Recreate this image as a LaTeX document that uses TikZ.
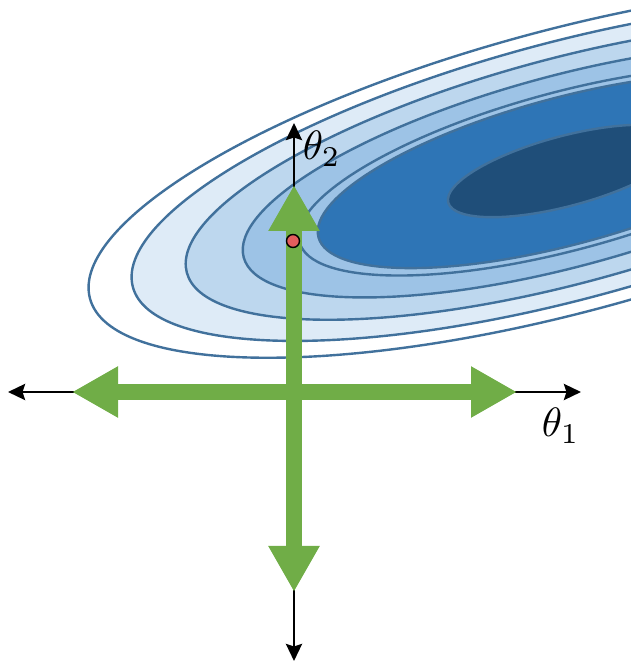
\documentclass[tikz,border=0pt]{standalone}
\usetikzlibrary{arrows.meta}
\definecolor{outl}{HTML}{41719C}
\definecolor{cA}{HTML}{FFFFFF}
\definecolor{cB}{HTML}{DEEBF7}
\definecolor{cC}{HTML}{BDD7EE}
\definecolor{cD}{HTML}{9DC3E6}
\definecolor{cE}{HTML}{9DC3E6}
\definecolor{cF}{HTML}{2E75B6}
\definecolor{cG}{HTML}{1F4E79}
\definecolor{ggreen}{HTML}{70AD47}
\definecolor{reddot}{HTML}{E35D5D}
\begin{document}
\begin{tikzpicture}[x=1pt,y=1pt,
  contour/.style={draw=outl, line width=2.4pt},
  axisarrow/.style={line width=2.8pt, -{Stealth[length=17pt,width=16pt,inset=2.5pt]}},
  gstep/.style={draw=ggreen, line width=16pt, {Triangle[length=46pt,width=48pt]}-{Triangle[length=46pt,width=48pt]}},
  lab/.style={scale=4.1, inner sep=0pt}]
\useasboundingbox (0,0) rectangle (631,662);
\begin{scope}
  \clip (0,0) rectangle (631,662);
  \foreach \s/\c in {0.9876/cA, 0.8986/cB, 0.7867/cC, 0.6687/cD, 0.5528/cE, 0.5135/cF, 0.2443/cG}{
    \draw[contour, fill=\c, rotate around={15:(566,491)}] (566,491) ellipse [x radius={499*\s}, y radius={143*\s}];
  }
\end{scope}
% black axes
\coordinate (O) at (294,270);
\coordinate (L) at (8,270);
\coordinate (R) at (581,270);
\coordinate (T) at (294,539);
\coordinate (B) at (294,1);
\draw[axisarrow] (O) -- (L);
\draw[axisarrow] (O) -- (R);
\draw[axisarrow] (O) -- (T);
\draw[axisarrow] (O) -- (B);
% green steps
\coordinate (gL) at (72,270);
\coordinate (gR) at (517,270);
\coordinate (gT) at (294,477);
\coordinate (gB) at (294,70);
\draw[gstep] (gL) -- (gR);
\draw[gstep] (gB) -- (gT);
% point
\node[circle, fill=reddot, draw=black, line width=1.4pt, minimum size=13pt, inner sep=0pt] (p) at (293,421) {};
% labels
\node[lab, anchor=base west] (t2) at (302,502) {$\theta_2$};
\node[lab, anchor=base west] (t1) at (541,225) {$\theta_1$};
\end{tikzpicture}
\end{document}
